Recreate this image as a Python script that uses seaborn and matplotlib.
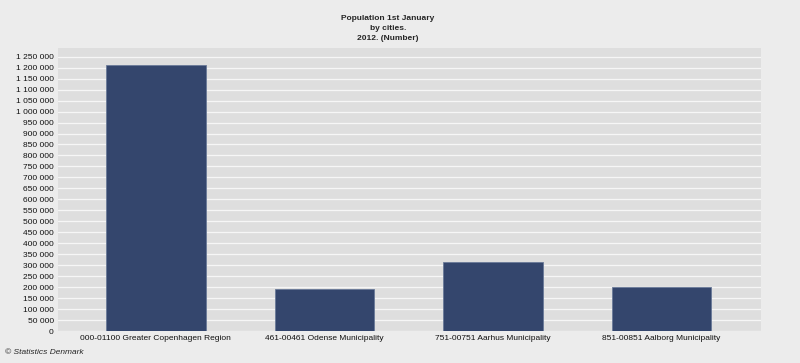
import matplotlib
matplotlib.use("Agg")
import matplotlib.pyplot as plt
import matplotlib.ticker as mticker
import seaborn as sns
import pandas as pd

# population 1st january 2012, by cities
cities = [
    "000-01100 Greater Copenhagen Region",
    "461-00461 Odense Municipality",
    "751-00751 Aarhus Municipality",
    "851-00851 Aalborg Municipality",
]
population = [1213822, 191610, 314545, 201142]
yticks = list(range(0, 1250001, 50000))

df = pd.DataFrame({"city": cities, "population": population})

sns.set_theme(style="white")
plt.rcParams["font.family"] = ["Liberation Sans", "DejaVu Sans"]

fig = plt.figure(figsize=(8, 3.63), dpi=100, facecolor="#ececec")
ax = fig.add_axes([0.0725, 0.088, 0.8788, 0.78])
ax.set_facecolor("#dedede")

sns.barplot(data=df, x="city", y="population", color="#34466d",
            width=0.59, saturation=1, edgecolor="#6a7a98", linewidth=0.6,
            ax=ax, zorder=3)

ax.set_xlim(-0.58, 3.59)
ax.set_ylim(0, 1290000)
ax.set_yticks(yticks)
ax.yaxis.set_major_formatter(mticker.FuncFormatter(lambda v, p: f"{int(v):,}".replace(",", " ")))
ax.grid(axis="y", color="#f6f6f6", linewidth=0.9, zorder=0)
ax.set_axisbelow(True)
for s in ax.spines.values():
    s.set_visible(False)
ax.tick_params(axis="both", length=0, labelsize=6.0, pad=3, colors="#111111")
ax.set_xlabel("")
ax.set_ylabel("")

fig.text(0.485, 0.958, "Population 1st January\nby cities.\n2012. (Number)", ha="center",
         va="top", fontsize=6.0, fontweight="bold", linespacing=1.6)
fig.text(0.006, 0.03, "© Statistics Denmark", fontsize=6.0, style="italic", ha="left", va="center")

fig.savefig("out.png", dpi=100, facecolor=fig.get_facecolor())
